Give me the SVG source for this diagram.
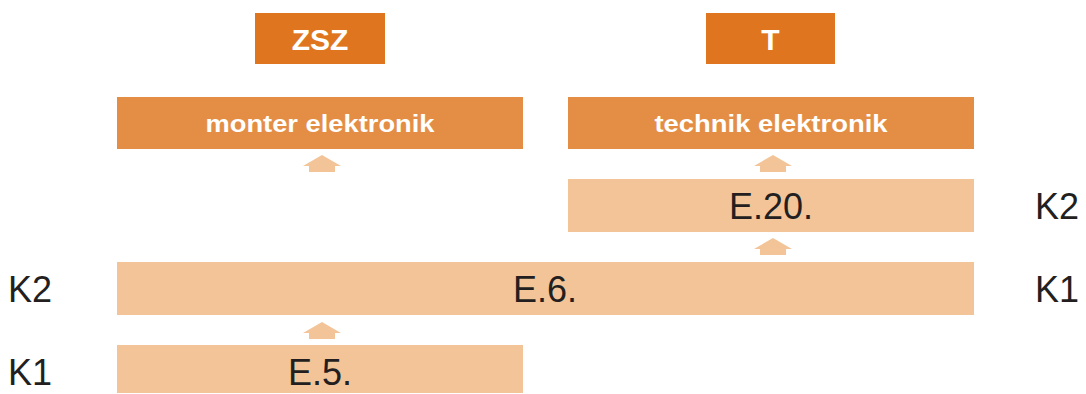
<svg xmlns="http://www.w3.org/2000/svg" width="1086" height="394" viewBox="0 0 1086 394">
<defs>
<style>
.dark{fill:#DF761F}
.mid{fill:#E48E45}
.light{fill:#F3C498}
.arr{fill:#F3C498}
.ttl{font-family:"Liberation Sans",Arial,sans-serif;font-weight:bold;fill:#fff;text-anchor:middle}
.lbl{font-family:"Liberation Sans",Arial,sans-serif;fill:#231F20;font-size:36px}
.mid-t{text-anchor:middle}
</style>
<path id="up" d="M0,0 L19,11 L13,11 L13,17 L-13,17 L-13,11 L-19,11 Z"/>
</defs>
<rect width="1086" height="394" fill="#fff"/>
<g id="zsz"><rect class="dark" x="255" y="13" width="130" height="51"/><text class="ttl" x="320" y="50" font-size="30">ZSZ</text></g>
<g id="t"><rect class="dark" x="706" y="13" width="129" height="51"/><text class="ttl" x="770.5" y="50" font-size="30">T</text></g>
<g id="monter"><rect class="mid" x="117" y="97" width="406" height="52"/><text class="ttl" x="320" y="132" font-size="24" textLength="229" lengthAdjust="spacingAndGlyphs">monter elektronik</text></g>
<g id="technik"><rect class="mid" x="568" y="97" width="406" height="52"/><text class="ttl" x="771" y="132" font-size="24" textLength="233" lengthAdjust="spacingAndGlyphs">technik elektronik</text></g>
<g id="e20"><rect class="light" x="568" y="179" width="406" height="53"/><text class="lbl mid-t" x="771" y="219">E.20.</text></g>
<g id="e6"><rect class="light" x="117" y="262" width="857" height="53"/><text class="lbl mid-t" x="545" y="302">E.6.</text></g>
<g id="e5"><rect class="light" x="117" y="345" width="406" height="48"/><text class="lbl mid-t" x="320" y="385">E.5.</text></g>
<g id="levels">
<text class="lbl" x="8" y="302">K2</text>
<text class="lbl" x="8" y="385">K1</text>
<text class="lbl" x="1035" y="219">K2</text>
<text class="lbl" x="1035" y="302">K1</text>
</g>
<g id="connectors" class="arr">
<use href="#up" x="322" y="155"/>
<use href="#up" x="773" y="155"/>
<use href="#up" x="773" y="238"/>
<use href="#up" x="322" y="322"/>
</g>
</svg>
